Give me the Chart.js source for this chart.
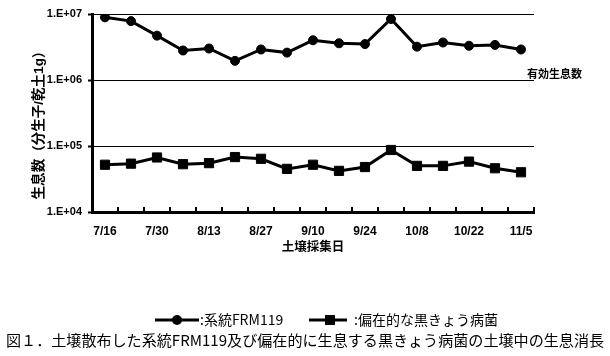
<!DOCTYPE html>
<html><head><meta charset="utf-8">
<script src="https://cdn.jsdelivr.net/npm/chart.js@4"></script>
<style>html,body{margin:0;padding:0;background:#fff}canvas{display:block}</style>
</head><body><canvas id="c" width="610" height="356"></canvas>
<script>
const categories = ['7/16','7/23','7/30','8/6','8/13','8/20','8/27','9/3','9/10','9/17','9/24','10/1','10/8','10/15','10/22','10/29','11/5'];
const frm119 = [8.9e6,7.8e6,4.7e6,2.8e6,3.0e6,1.95e6,2.9e6,2.6e6,4.0e6,3.6e6,3.5e6,8.4e6,3.2e6,3.7e6,3.3e6,3.4e6,2.9e6];
const indigenous = [5.2e4,5.4e4,6.7e4,5.3e4,5.5e4,6.8e4,6.4e4,4.5e4,5.2e4,4.2e4,4.8e4,8.7e4,5.0e4,5.0e4,5.8e4,4.6e4,4.0e4];
const yTickValues = [1e4,1e5,1e6,1e7];
const yTickLabels = ['1.E+04','1.E+05','1.E+06','1.E+07'];
const seriesNames = [':系統FRM119', ':偏在的な黒きょう病菌'];
const yTitle = '生息数（分生子/乾土1g）';
const xTitle = '土壌採集日';
const lineNote = '有効生息数';
const caption = '図１．土壌散布した系統FRM119及び偏在的に生息する黒きょう病菌の土壌中の生息消長';

const FONT = "'Liberation Sans', 'Noto Sans CJK JP', sans-serif";
const CJK = "'Noto Sans CJK JP', sans-serif";

const decor = {
  id: 'decor',
  afterDraw(chart) {
    const {ctx, chartArea: a, scales: {x, y}} = chart;
    ctx.save();
    // inner tick marks on the x axis at category boundaries
    ctx.strokeStyle = '#000';
    ctx.lineWidth = 2;
    for (let i = 0; i < categories.length; i++) {
      const px = Math.round(x.getPixelForValue(i + 0.5));
      ctx.beginPath();
      ctx.moveTo(px, a.bottom);
      ctx.lineTo(px, a.bottom - 5);
      ctx.stroke();
    }
    ctx.fillStyle = '#000';
    ctx.textAlign = 'left';
    ctx.textBaseline = 'middle';

    // y axis title (rotated)
    ctx.save();
    ctx.font = 'bold 14px ' + FONT;
    const tw = ctx.measureText(yTitle).width;
    const tfs = 14 * 155 / tw;
    ctx.font = 'bold ' + tfs.toFixed(2) + 'px ' + FONT;
    ctx.translate(39, (a.top + a.bottom) / 2 + 9);
    ctx.rotate(-Math.PI / 2);
    ctx.textAlign = 'center';
    ctx.fillText(yTitle, 0, 0);
    ctx.restore();

    // note near the 1E+06 line
    ctx.font = 'bold 11px ' + CJK;
    ctx.fillText(lineNote, a.right - 7, y.getPixelForValue(1e6) - 6);

    // legend
    const ly = 320;
    const ds = chart.data.datasets;
    ctx.font = '14px ' + CJK;
    ctx.lineWidth = 3;
    ctx.beginPath(); ctx.moveTo(155, ly); ctx.lineTo(199, ly); ctx.stroke();
    ctx.beginPath(); ctx.arc(177, ly, 5, 0, Math.PI * 2); ctx.fill();
    ctx.fillText(ds[0].label, 200, ly);
    ctx.beginPath(); ctx.moveTo(309, ly); ctx.lineTo(347, ly); ctx.stroke();
    ctx.fillRect(325, ly - 5, 10, 10);
    ctx.fillText(ds[1].label, 354, ly);

    // caption
    let fs = 15;
    ctx.font = fs + 'px ' + CJK;
    const w = ctx.measureText(caption).width;
    fs = fs * 598 / w;
    ctx.font = fs.toFixed(2) + 'px ' + CJK;
    ctx.fillText(caption, 6, 340);
    ctx.restore();
  }
};

new Chart(document.getElementById('c'), {
  type: 'line',
  data: {
    labels: categories,
    datasets: [
      {label: seriesNames[0], data: frm119, borderColor: '#000', backgroundColor: '#000',
       borderWidth: 3, pointStyle: 'circle', pointRadius: 4.5, pointBorderWidth: 1, tension: 0},
      {label: seriesNames[1], data: indigenous, borderColor: '#000', backgroundColor: '#000',
       borderWidth: 3, pointStyle: 'rect', pointRadius: 6.5, pointBorderWidth: 1, tension: 0}
    ]
  },
  options: {
    responsive: false,
    animation: false,
    devicePixelRatio: 1,
    layout: {padding: {left: 0, top: 14, right: 76, bottom: 102}},
    plugins: {legend: {display: false}, tooltip: {enabled: false}},
    scales: {
      x: {
        type: 'category',
        offset: true,
        grid: {display: false, drawTicks: false},
        border: {display: true, color: '#000', width: 3},
        ticks: {
          autoSkip: false, maxRotation: 0, minRotation: 0, padding: 12, color: '#000',
          font: {family: FONT, size: 12, weight: 'bold'},
          callback: (v, i) => (i % 2 === 0 ? categories[i] : '')
        },
        title: {display: true, text: xTitle, color: '#000', font: {family: CJK, size: 12.5, weight: 'bold'}, padding: {top: 0, bottom: 0}},
        afterFit: s => { s.height = 42; }
      },
      y: {
        type: 'logarithmic',
        min: 1e4, max: 1e7,
        afterBuildTicks: s => { s.ticks = yTickValues.map(v => ({value: v, major: true})); },
        grid: {display: true, color: '#000', lineWidth: 1, drawTicks: true, tickLength: 4, tickColor: '#000', tickWidth: 2},
        border: {display: true, color: '#000', width: 3},
        ticks: {
          color: '#000', padding: 6,
          font: {family: FONT, size: 11, weight: 'bold'},
          callback: v => { const i = yTickValues.indexOf(v); return i >= 0 ? yTickLabels[i] : ''; }
        },
        title: {display: false},
        afterFit: s => { s.width = 92; }
      }
    }
  },
  plugins: [decor]
});
</script>
</body></html>
